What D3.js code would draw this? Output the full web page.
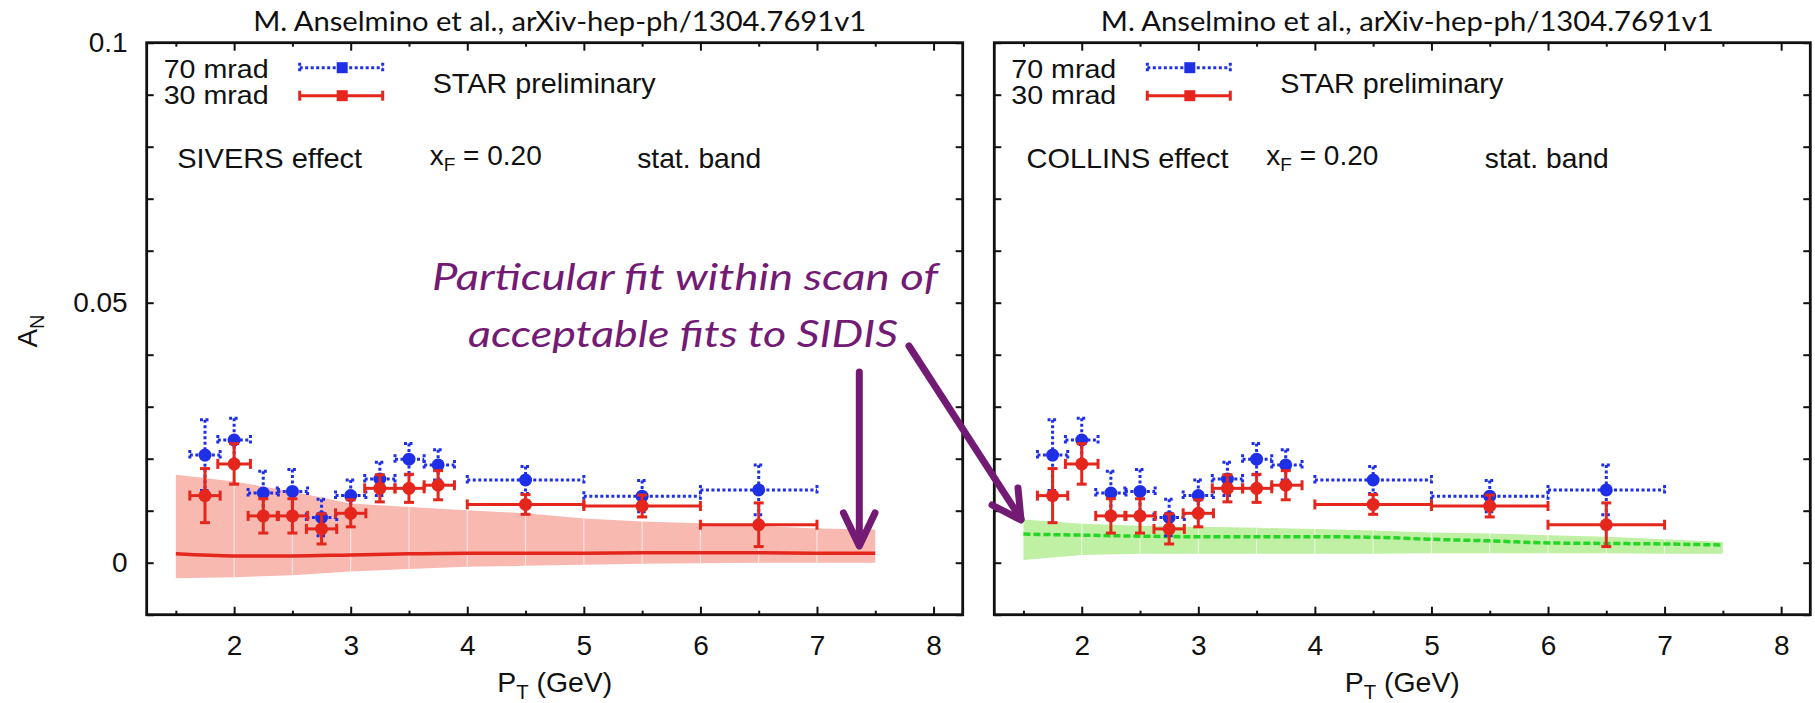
<!DOCTYPE html>
<html><head><meta charset="utf-8">
<script src="https://cdn.jsdelivr.net/npm/d3@7"></script>
<style>body{margin:0;background:#fff}svg{display:block}</style>
</head><body>
<svg id="c" width="1815" height="703"></svg>
<script>
// ---------------- data ----------------
const pT      = [1.75, 2.0, 2.25, 2.5, 2.75, 3.0, 3.25, 3.5, 3.75, 4.5, 5.5, 6.5];
const pTlo    = [1.62, 1.86, 2.12, 2.37, 2.62, 2.87, 3.12, 3.38, 3.63, 4.0, 5.0, 6.0];
const pThi    = [1.88, 2.14, 2.38, 2.63, 2.88, 3.13, 3.38, 3.63, 3.89, 5.0, 6.0, 7.0];
const A30     = [0.0129, 0.0190, 0.0090, 0.0090, 0.0065, 0.0095, 0.0143, 0.0143, 0.0149, 0.0112, 0.0109, 0.0073];
const err30   = [0.0052, 0.0039, 0.0033, 0.0033, 0.0029, 0.0026, 0.0026, 0.0027, 0.0028, 0.0019, 0.0021, 0.0042];
const A70     = [0.0207, 0.0236, 0.0134, 0.0137, 0.0087, 0.0129, 0.0161, 0.0199, 0.0188, 0.0159, 0.0128, 0.0140];
const err70   = [0.0068, 0.0042, 0.0042, 0.0042, 0.0035, 0.0030, 0.0032, 0.0030, 0.0029, 0.0026, 0.0030, 0.0048];

const bandPT        = [1.5, 2.0, 2.5, 3.0, 3.5, 4.0, 4.5, 5.0, 5.5, 6.0, 6.5, 7.0, 7.5];
const siversUpper   = [0.0169, 0.0156, 0.0137, 0.0114, 0.0107, 0.0101, 0.0095, 0.0085, 0.0079, 0.0076, 0.0071, 0.0066, 0.0064];
const siversLower   = [-0.0030, -0.0028, -0.0024, -0.0017, -0.0012, -0.0008, -0.0006, -0.0004, -0.0002, -0.0001, 0.0000, 0.0000, 0.0000];
const siversCentral = [0.0017, 0.0013, 0.0013, 0.0015, 0.0017, 0.0018, 0.0018, 0.0018, 0.0019, 0.0019, 0.0019, 0.0018, 0.0018];
const collinsUpper  = [0.0083, 0.0075, 0.0071, 0.0069, 0.0067, 0.0065, 0.0062, 0.0058, 0.0056, 0.0053, 0.0050, 0.0045, 0.0040];
const collinsLower  = [0.0005, 0.0015, 0.0017, 0.0017, 0.0017, 0.0017, 0.0017, 0.0018, 0.0018, 0.0018, 0.0018, 0.0017, 0.0017];
const collinsCentral= [0.0055, 0.0053, 0.0051, 0.0050, 0.0050, 0.0050, 0.0049, 0.0045, 0.0042, 0.0038, 0.0037, 0.0036, 0.0034];

const xMajorTicks = [2, 3, 4, 5, 6, 7, 8];
const xTickLabels = ["2", "3", "4", "5", "6", "7", "8"];
const xMinorTicks = [1.5, 2.5, 3.5, 4.5, 5.5, 6.5, 7.5];
const yTickVals   = [-0.01, 0, 0.01, 0.02, 0.03, 0.04, 0.05, 0.06, 0.07, 0.08, 0.09, 0.1];
const yLabelVals  = [0, 0.05, 0.1];
const yLabelText  = ["0", "0.05", "0.1"];
const titleText   = "M. Anselmino et al., arXiv-hep-ph/1304.7691v1";
const effectNames = ["SIVERS effect", "COLLINS effect"];
const legendNames = ["70 mrad", "30 mrad"];

// ---------------- style ----------------
const RED = "#e5261c", BLUE = "#1f2fe6", PURPLE = "#721a74";
const GP_FONT = "'Liberation Sans', Arial, Helvetica, sans-serif";
const SL_FONT = "Lato, 'Open Sans', sans-serif";
const FS = 28;

const svg = d3.select("#c");
const W = 816, TOP = 42.7, BOT = 614.7;

const panels = [
  {left: 146.7, effect: effectNames[0], upper: siversUpper, lower: siversLower, central: siversCentral,
   bandFill: "#f8b9b1", lineColor: RED, dashed: false, effectW: 185, effDx: 30.5, xfDx: 283},
  {left: 994.3, effect: effectNames[1], upper: collinsUpper, lower: collinsLower, central: collinsCentral,
   bandFill: "#bff0a4", lineColor: "#26d626", dashed: true, effectW: 202, effDx: 32.2, xfDx: 272}
];

function gpText(g, x, y, str, size, anchor) {
  return g.append("text").attr("x", x).attr("y", y).text(str)
    .attr("font-family", GP_FONT).attr("font-size", size)
    .attr("text-anchor", anchor || "start").attr("fill", "#111");
}

panels.forEach((p, pi) => {
  const g = svg.append("g");
  const x = d3.scaleLinear().domain([1.25, 8.25]).range([p.left, p.left + W]);
  const y = d3.scaleLinear().domain([-0.01, 0.1]).range([BOT, TOP]);

  // band
  const area = d3.area().x((d, i) => x(bandPT[i])).y0((d, i) => y(p.lower[i])).y1((d, i) => y(p.upper[i]));
  const clipId = "bandclip" + pi;
  svg.append("clipPath").attr("id", clipId).append("path").attr("d", area(bandPT));
  g.append("path").attr("d", area(bandPT)).attr("fill", p.bandFill);
  g.append("g").attr("clip-path", `url(#${clipId})`)
    .selectAll("line").data(xMinorTicks.concat(xMajorTicks).filter(v => v > 1.5 && v < 7.5))
    .join("line").attr("x1", d => x(d)).attr("x2", d => x(d)).attr("y1", TOP).attr("y2", BOT)
    .attr("stroke", "#fff").attr("stroke-width", 1).attr("opacity", 0.7);

  // central curve
  const line = d3.line().x((d, i) => x(bandPT[i])).y(d => y(d)).curve(d3.curveMonotoneX);
  g.append("path").attr("d", line(p.central)).attr("fill", "none")
    .attr("stroke", p.lineColor).attr("stroke-width", 3.5)
    .attr("stroke-dasharray", p.dashed ? "7,3" : null);

  // data: 70 mrad (blue dotted) then 30 mrad (red solid)
  [[A70, err70, BLUE, true], [A30, err30, RED, false]].forEach(([vals, errs, col, dotted]) => {
    const s = g.append("g").attr("stroke", col).attr("stroke-width", 3).attr("fill", "none");
    if (dotted) s.attr("stroke-dasharray", "3,2.5");
    vals.forEach((v, i) => {
      const cx = x(pT[i]), cy = y(v);
      const yt = y(v + errs[i]), yb = y(v - errs[i]);
      const xl = x(pTlo[i]), xr = x(pThi[i]);
      s.append("line").attr("x1", xl).attr("x2", xr).attr("y1", cy).attr("y2", cy);
      s.append("line").attr("x1", cx).attr("x2", cx).attr("y1", yt).attr("y2", yb);
      s.append("line").attr("x1", xl).attr("x2", xl).attr("y1", cy - 5).attr("y2", cy + 5);
      s.append("line").attr("x1", xr).attr("x2", xr).attr("y1", cy - 5).attr("y2", cy + 5);
      s.append("line").attr("x1", cx - 5).attr("x2", cx + 5).attr("y1", yt).attr("y2", yt);
      s.append("line").attr("x1", cx - 5).attr("x2", cx + 5).attr("y1", yb).attr("y2", yb);
    });
    g.append("g").selectAll("circle").data(vals).join("circle")
      .attr("cx", (d, i) => x(pT[i])).attr("cy", d => y(d)).attr("r", 6.5).attr("fill", col);
  });

  // frame
  g.append("rect").attr("x", p.left).attr("y", TOP).attr("width", W).attr("height", BOT - TOP)
    .attr("fill", "none").attr("stroke", "#111").attr("stroke-width", 2.8);

  // axes (inward ticks)
  const clean = sel => { sel.select(".domain").remove(); sel.selectAll("line").attr("stroke", "#111").attr("stroke-width", 2); };
  const bx = g.append("g").attr("transform", `translate(0,${BOT})`)
    .call(d3.axisBottom(x).tickValues(xMajorTicks).tickSizeInner(-8).tickSizeOuter(0).tickPadding(20)
      .tickFormat((d, i) => xTickLabels[i]));
  clean(bx);
  bx.selectAll("text").attr("font-family", GP_FONT).attr("font-size", FS).attr("fill", "#111");
  clean(g.append("g").attr("transform", `translate(0,${BOT})`)
    .call(d3.axisBottom(x).tickValues(xMinorTicks).tickSizeInner(-4).tickSizeOuter(0).tickFormat("")));
  clean(g.append("g").attr("transform", `translate(0,${TOP})`)
    .call(d3.axisTop(x).tickValues(xMajorTicks).tickSizeInner(-8).tickSizeOuter(0).tickFormat("")));
  clean(g.append("g").attr("transform", `translate(0,${TOP})`)
    .call(d3.axisTop(x).tickValues(xMinorTicks).tickSizeInner(-4).tickSizeOuter(0).tickFormat("")));
  clean(g.append("g").attr("transform", `translate(${p.left},0)`)
    .call(d3.axisLeft(y).tickValues(yTickVals).tickSizeInner(-7).tickSizeOuter(0).tickFormat("")));
  clean(g.append("g").attr("transform", `translate(${p.left + W},0)`)
    .call(d3.axisRight(y).tickValues(yTickVals).tickSizeInner(-7).tickSizeOuter(0).tickFormat("")));
  if (pi === 0) {
    const ly = g.append("g").attr("transform", `translate(${p.left},0)`)
      .call(d3.axisLeft(y).tickValues(yLabelVals).tickSize(0).tickPadding(19)
        .tickFormat((d, i) => yLabelText[i]));
    ly.select(".domain").remove();
    ly.selectAll("text").attr("font-family", GP_FONT).attr("font-size", FS).attr("fill", "#111");
    const an = g.append("text").attr("transform", "translate(37,331) rotate(-90)")
      .attr("text-anchor", "middle").attr("font-family", GP_FONT).attr("font-size", FS).attr("fill", "#111");
    an.append("tspan").text("A");
    an.append("tspan").text("N").attr("font-size", 20).attr("dy", 7);
  }

  // x-axis title
  const xt = g.append("text").attr("x", p.left + W / 2).attr("y", 692).attr("text-anchor", "middle")
    .attr("font-family", GP_FONT).attr("font-size", FS).attr("fill", "#111")
    .attr("textLength", 115).attr("lengthAdjust", "spacingAndGlyphs");
  xt.append("tspan").text("P");
  xt.append("tspan").text("T").attr("font-size", 20).attr("dy", 7);
  xt.append("tspan").text(" (GeV)").attr("dy", -7);

  // legend
  const L = p.left;
  gpText(g, L + 17, 78, legendNames[0], 25).attr("textLength", 105).attr("lengthAdjust", "spacingAndGlyphs");
  gpText(g, L + 17, 104, legendNames[1], 25).attr("textLength", 105).attr("lengthAdjust", "spacingAndGlyphs");
  [[67.7, BLUE, true], [95.7, RED, false]].forEach(([ly, col, dotted]) => {
    const s = g.append("g").attr("stroke", col).attr("stroke-width", 3);
    if (dotted) s.attr("stroke-dasharray", "3,2.5");
    s.append("line").attr("x1", L + 153).attr("x2", L + 236).attr("y1", ly).attr("y2", ly);
    s.append("line").attr("x1", L + 153).attr("x2", L + 153).attr("y1", ly - 5).attr("y2", ly + 5);
    s.append("line").attr("x1", L + 236).attr("x2", L + 236).attr("y1", ly - 5).attr("y2", ly + 5);
    g.append("rect").attr("x", L + 190).attr("y", ly - 5.5).attr("width", 11).attr("height", 11).attr("fill", col);
  });
  gpText(g, L + 286, 93, "STAR preliminary", FS).attr("textLength", 223).attr("lengthAdjust", "spacingAndGlyphs");
  gpText(g, L + p.effDx, 168, p.effect, FS).attr("textLength", p.effectW).attr("lengthAdjust", "spacingAndGlyphs");
  const xf = gpText(g, L + p.xfDx, 165, "", FS);
  xf.append("tspan").text("x");
  xf.append("tspan").text("F").attr("font-size", 19).attr("dy", 6);
  xf.append("tspan").text(" = 0.20").attr("dy", -6);
  gpText(g, L + 490.5, 168, "stat. band", FS).attr("textLength", 124).attr("lengthAdjust", "spacingAndGlyphs");

  // slide title
  svg.append("text").attr("x", L + W / 2 + 5).attr("y", 31).attr("text-anchor", "middle")
    .attr("font-family", SL_FONT).attr("font-size", 26).attr("fill", "#111")
    .attr("textLength", 613).attr("lengthAdjust", "spacingAndGlyphs").text(titleText);
});

// ---------------- annotation ----------------
const ann = svg.append("g");
ann.append("text").attr("x", 938).attr("y", 290).attr("text-anchor", "end")
  .attr("font-family", SL_FONT).attr("font-style", "italic").attr("font-size", 37).attr("fill", PURPLE)
  .attr("textLength", 506).attr("lengthAdjust", "spacingAndGlyphs")
  .text("Particular fit within scan of");
ann.append("text").attr("x", 898).attr("y", 347).attr("text-anchor", "end")
  .attr("font-family", SL_FONT).attr("font-style", "italic").attr("font-size", 37).attr("fill", PURPLE)
  .attr("textLength", 430).attr("lengthAdjust", "spacingAndGlyphs")
  .text("acceptable fits to SIDIS");
const arr = ann.append("g").attr("stroke", PURPLE).attr("stroke-width", 7).attr("fill", "none")
  .attr("stroke-linecap", "round").attr("stroke-linejoin", "round");
arr.append("line").attr("x1", 859.3).attr("y1", 372).attr("x2", 859.3).attr("y2", 545);
arr.append("polyline").attr("points", "843.5,513 859.3,546 875,513");
arr.append("line").attr("x1", 909).attr("y1", 346).attr("x2", 1021).attr("y2", 519);
arr.append("polyline").attr("points", "992,505 1021,520 1018,488");
</script>
</body></html>
